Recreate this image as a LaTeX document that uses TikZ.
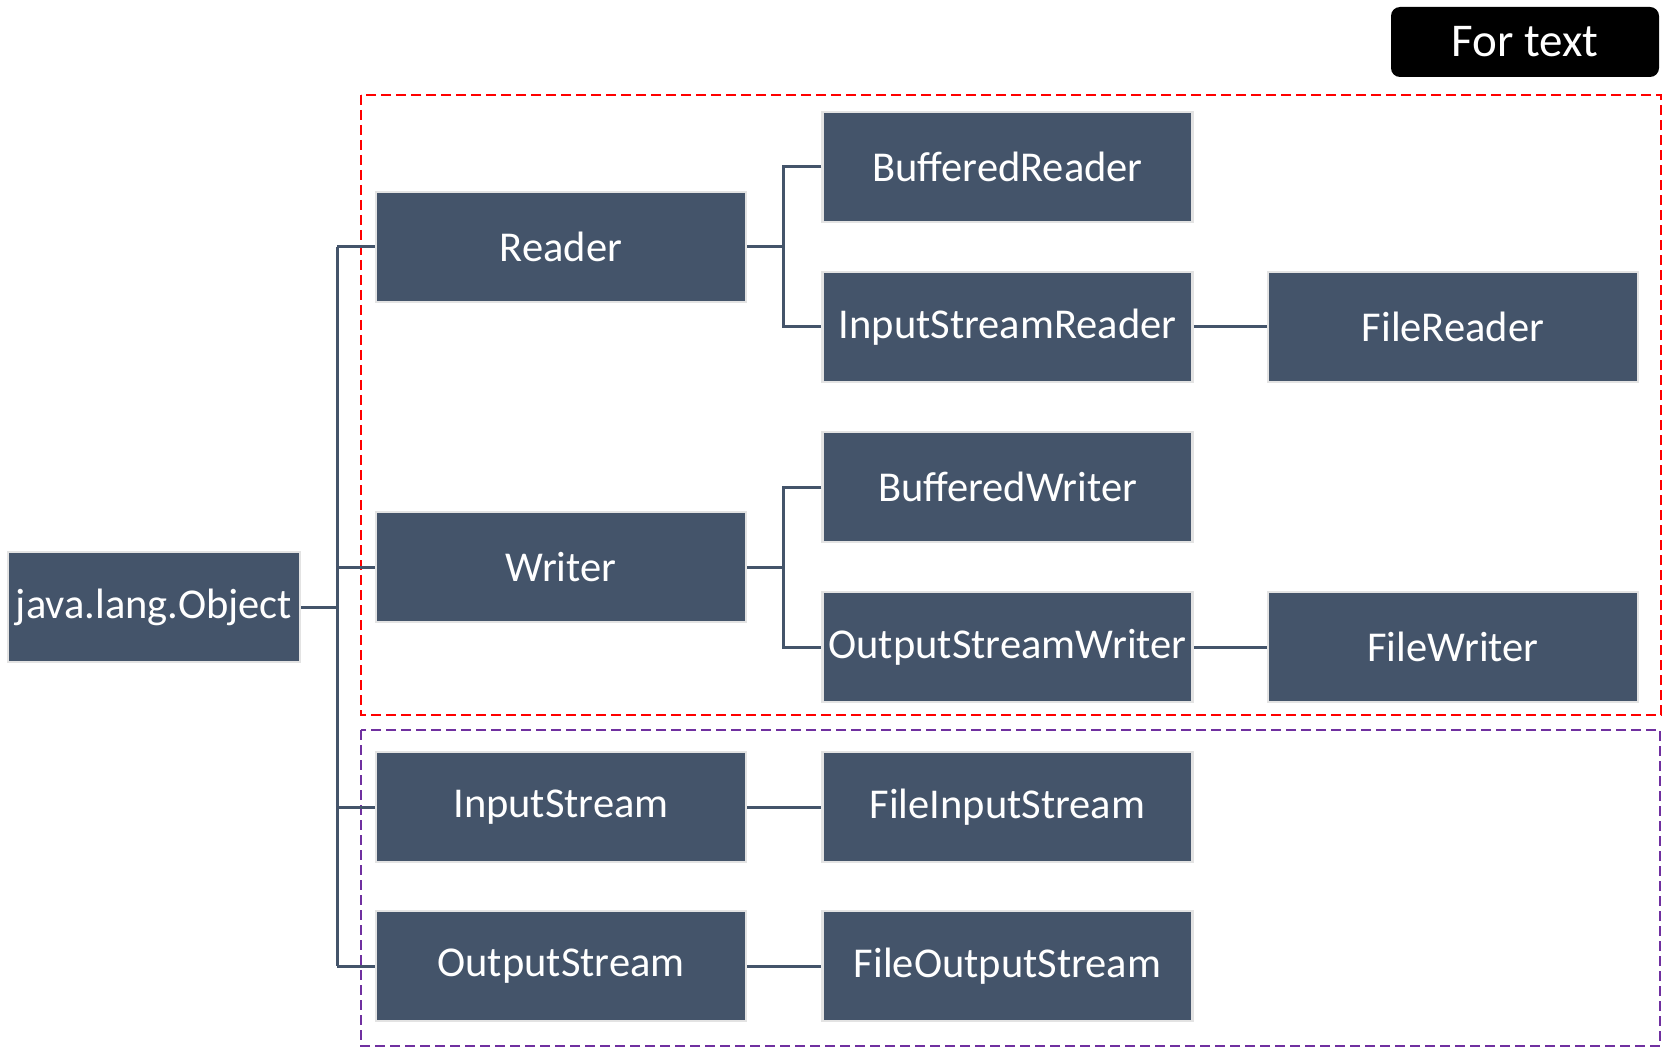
\documentclass[tikz,border=0pt]{standalone}
\usepackage{fontspec}
\setmainfont{Carlito}
\definecolor{boxfill}{HTML}{44546A}
\definecolor{boxedge}{HTML}{E3E3E3}
\definecolor{purp}{HTML}{7030A0}
\begin{document}
\begin{tikzpicture}[x=1pt,y=-1pt,
  cls/.style={draw=boxedge,line width=2.5pt,fill=boxfill,text=white,
    minimum width=370pt,minimum height=110pt,inner sep=0pt,
    font=\fontsize{42.5}{50}\selectfont},
  conn/.style={draw=boxfill,line width=3pt},
  grp/.style={line width=2.5pt,dash pattern=on 10pt off 5pt}]
\useasboundingbox (0,0) rectangle (1663,1048);
% group frames
\draw[grp,red] (361,95) rectangle (1661,715);
\draw[grp,purp] (361,730) rectangle (1660,1046);
% legend
\node[fill=black,rounded corners=9pt,minimum width=268pt,minimum height=70pt,
  text=white,font=\fontsize{47}{56}\selectfont,inner sep=0pt] (legend) at (1525,42) {For text};
% nodes
\node[cls,minimum width=292pt] (obj) at (154,607) {java.lang.Object};
\node[cls] (reader) at (561,247) {Reader};
\node[cls] (writer) at (561,567) {Writer};
\node[cls] (instream) at (561,807) {InputStream};
\node[cls] (outstream) at (561,966) {OutputStream};
\node[cls] (br) at (1007.5,167) {BufferedReader};
\node[cls] (isr) at (1007.5,327) {InputStreamReader};
\node[cls] (bw) at (1007.5,487) {BufferedWriter};
\node[cls] (osw) at (1007.5,647) {OutputStreamWriter};
\node[cls] (fis) at (1007.5,807) {FileInputStream};
\node[cls] (fos) at (1007.5,966) {FileOutputStream};
\node[cls] (fr) at (1453,327) {FileReader};
\node[cls] (fw) at (1453,647) {FileWriter};
% spine
\coordinate (stop) at (337,247);
\coordinate (sbot) at (337,966);
\draw[conn] (stop) -- (sbot);
\draw[conn] (obj.east) -- (obj.east -| stop);
\draw[conn] (reader.west) -- (reader.west -| stop);
\draw[conn] (writer.west) -- (writer.west -| stop);
\draw[conn] (instream.west) -- (instream.west -| stop);
\draw[conn] (outstream.west) -- (outstream.west -| stop);
% reader branch
\coordinate (jr) at (783,247);
\draw[conn] (reader.east) -- (jr);
\draw[conn] (br.west) -| (jr) |- (isr.west);
% writer branch
\coordinate (jw) at (783,567);
\draw[conn] (writer.east) -- (jw);
\draw[conn] (bw.west) -| (jw) |- (osw.west);
% single links
\draw[conn] (isr.east) -- (fr.west);
\draw[conn] (osw.east) -- (fw.west);
\draw[conn] (instream.east) -- (fis.west);
\draw[conn] (outstream.east) -- (fos.west);
\end{tikzpicture}
\end{document}
